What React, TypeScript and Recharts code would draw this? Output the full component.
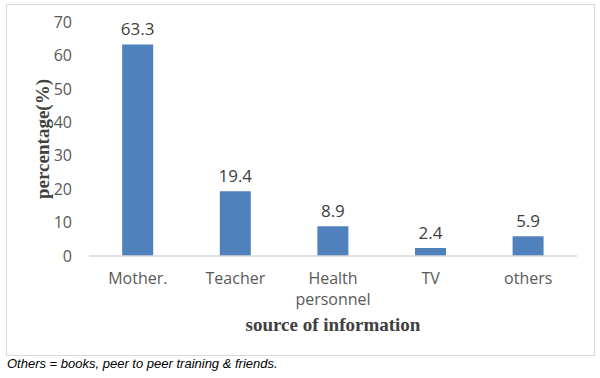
import { Bar, BarChart, LabelList, XAxis, YAxis, Label } from 'recharts'

const categories = ['Mother.', 'Teacher', 'Health personnel', 'TV', 'others']
const percentages = [63.3, 19.4, 8.9, 2.4, 5.9]
const yTicks = [0, 10, 20, 30, 40, 50, 60, 70]

const data = categories.map((name, i) => ({ name, value: percentages[i] }))

const tickFont = "'Open Sans', sans-serif"
const titleFont = "'Liberation Serif', 'Times New Roman', serif"

function CategoryTick({ x, y, payload }: any) {
  const lines = String(payload.value).split(' ')
  return (
    <text x={x} y={y} textAnchor='middle' fill='#595959' fontSize={16} fontFamily={tickFont}>
      {lines.map((line, i) => (
        <tspan key={i} x={x} dy={i === 0 ? 20 : 21}>
          {line}
        </tspan>
      ))}
    </text>
  )
}

function YTitle({ viewBox }: any) {
  const cx = viewBox.x + 13
  const cy = viewBox.y + viewBox.height / 2
  return (
    <text
      x={cx}
      y={cy}
      transform={`rotate(-90, ${cx}, ${cy})`}
      textAnchor='middle'
      dominantBaseline='central'
      fill='#404040'
      fontSize={19}
      fontWeight='bold'
      fontFamily={titleFont}
    >
      percentage(%)
    </text>
  )
}

export default function App() {
  return (
    <div style={{ position: 'absolute', left: 0, top: 0, width: 600, height: 378, background: '#fff' }}>
      <div
        style={{
          position: 'absolute',
          left: 6,
          top: 4,
          width: 589,
          height: 352,
          border: '1px solid #d9d9d9',
          boxSizing: 'border-box',
        }}
      />
      <div style={{ position: 'absolute', left: 0, top: 0 }}>
        <BarChart
          width={600}
          height={378}
          data={data}
          margin={{ top: 22, right: 23, bottom: 42, left: 29 }}
          barCategoryGap='34%'
        >
          <XAxis
            dataKey='name'
            height={80}
            interval={0}
            tickLine={false}
            axisLine={{ stroke: '#d9d9d9', strokeWidth: 1.5 }}
            tick={<CategoryTick />}
          >
            <Label
              value='source of information'
              position='insideBottom'
              offset={5}
              fill='#404040'
              fontSize={19}
              fontWeight='bold'
              fontFamily={titleFont}
            />
          </XAxis>
          <YAxis
            width={60}
            domain={[0, 70]}
            ticks={yTicks}
            axisLine={false}
            tickLine={false}
            tickSize={0}
            tickMargin={17}
            tick={{ fill: '#595959', fontSize: 16, fontFamily: tickFont }}
          >
            <Label content={<YTitle />} />
          </YAxis>
          <Bar dataKey='value' fill='#4f81bd' isAnimationActive={false}>
            <LabelList
              dataKey='value'
              position='top'
              offset={9}
              fill='#404040'
              fontSize={17}
              fontFamily={tickFont}
            />
          </Bar>
        </BarChart>
      </div>
      <div
        style={{
          position: 'absolute',
          left: 7,
          top: 356,
          fontFamily: "'Liberation Sans', Arial, sans-serif",
          fontStyle: 'italic',
          fontSize: 13,
          color: '#000',
        }}
      >
        Others = books, peer to peer training &amp; friends.
      </div>
    </div>
  )
}
